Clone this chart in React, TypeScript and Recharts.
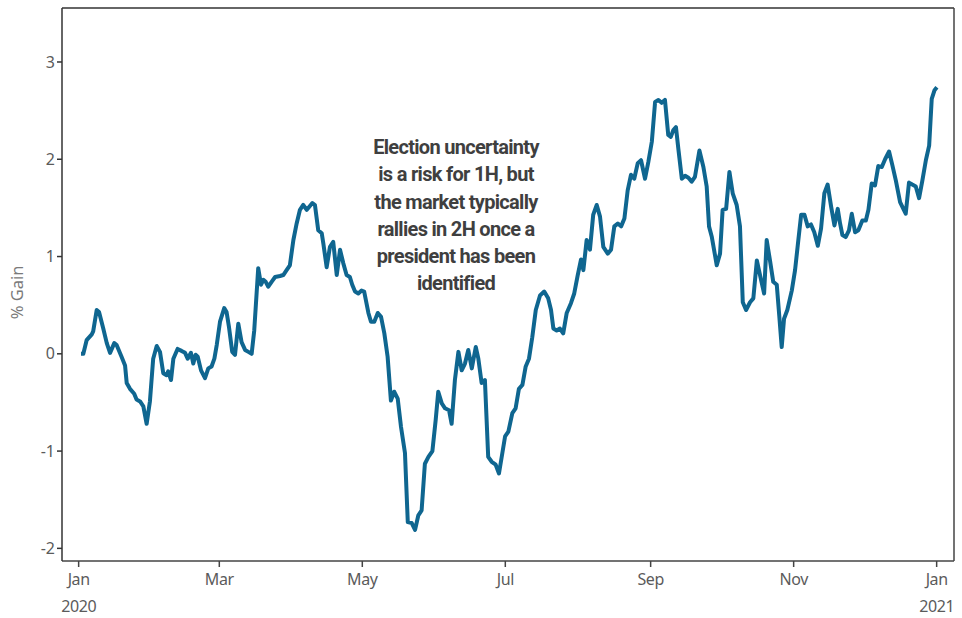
import React from 'react';
import { LineChart, Line, XAxis, YAxis, ReferenceLine } from 'recharts';

// days counted from Jan 1 2020
const DAYS = [
  1.0, 2.0, 3.4, 5.6, 6.2, 7.7, 8.7, 10.5, 12.0, 13.4, 15.2, 16.2, 18.3, 19.8, 20.5, 21.9, 23.7, 24.7, 26.2, 27.6,
  29.0, 30.4, 31.8, 33.3, 34.7, 36.1, 37.5, 38.2, 39.4, 40.4, 42.2, 43.9, 45.4, 46.5, 47.9, 48.9, 49.9, 50.8, 52.2, 53.9,
  55.3, 56.7, 57.9, 58.9, 60.3, 62.1, 63.1, 64.1, 65.5, 66.7, 68.1, 69.5, 71.0, 72.4, 73.8, 74.9, 76.6, 77.8, 78.8, 79.8,
  80.9, 82.3, 83.8, 85.9, 87.3, 88.7, 90.1, 91.6, 93.0, 94.4, 95.8, 97.3, 98.3, 99.7, 100.8, 102.2, 103.7, 104.4, 105.8, 107.2,
  108.6, 110.1, 111.5, 112.9, 114.3, 115.7, 116.7, 117.9, 119.3, 120.7, 121.8, 123.6, 124.7, 126.1, 127.6, 129.0, 130.4, 131.8, 133.2, 134.6,
  136.1, 137.5, 139.2, 140.4, 142.1, 143.5, 144.9, 146.3, 147.7, 149.2, 150.9, 152.3, 153.4, 154.9, 156.3, 158.0, 159.1, 160.5, 162.0, 163.4,
  164.8, 166.2, 167.7, 169.4, 170.5, 171.9, 173.3, 174.7, 176.2, 177.9, 179.3, 181.9, 183.3, 185.0, 186.4, 187.8, 189.3, 190.7, 192.1, 193.5,
  195.0, 196.8, 198.6, 200.3, 201.5, 202.5, 203.9, 205.3, 206.7, 208.2, 210.0, 211.4, 212.9, 214.3, 215.3, 216.7, 218.1, 219.5, 221.0, 222.4,
  223.8, 225.7, 227.1, 228.5, 230.0, 231.4, 232.8, 234.2, 235.6, 237.0, 238.5, 239.9, 241.6, 243.0, 244.5, 245.9, 247.3, 248.7, 250.1, 251.5,
  252.6, 253.7, 254.8, 255.8, 257.3, 258.7, 260.1, 261.5, 262.9, 264.8, 266.5, 267.9, 268.9, 270.1, 272.2, 273.6, 274.7, 276.2, 277.6, 279.0,
  280.7, 282.1, 283.3, 284.7, 286.4, 287.8, 289.3, 291.0, 292.4, 293.5, 294.9, 296.3, 297.8, 298.9, 299.9, 300.9, 302.3, 304.2, 305.6, 307.0,
  308.2, 309.6, 311.0, 312.4, 313.8, 315.3, 316.7, 318.1, 319.5, 321.0, 322.4, 323.8, 324.8, 325.8, 327.2, 328.6, 329.8, 331.2, 332.6, 334.3,
  335.8, 336.9, 338.3, 339.7, 341.1, 342.6, 344.0, 345.7, 347.1, 348.6, 350.4, 351.8, 352.8, 354.2, 355.6, 357.1, 358.5, 359.9, 361.4, 362.8,
  363.9, 365.1, 366.1,
];

const GAIN = [
  0.0, 0.0, 0.14, 0.2, 0.23, 0.45, 0.43, 0.26, 0.11, 0.01, 0.11, 0.09, -0.03, -0.12, -0.3, -0.36, -0.41, -0.47, -0.49, -0.54,
  -0.72, -0.49, -0.05, 0.08, 0.02, -0.2, -0.22, -0.18, -0.27, -0.05, 0.05, 0.03, 0.01, -0.05, 0.01, -0.1, -0.01, -0.03, -0.17, -0.25,
  -0.15, -0.13, -0.05, 0.09, 0.33, 0.47, 0.43, 0.28, 0.02, -0.01, 0.31, 0.12, 0.04, 0.02, 0.0, 0.24, 0.88, 0.71, 0.76, 0.74,
  0.69, 0.74, 0.79, 0.8, 0.81, 0.86, 0.91, 1.17, 1.34, 1.48, 1.53, 1.48, 1.51, 1.55, 1.53, 1.27, 1.24, 1.13, 0.89, 1.1,
  1.15, 0.81, 1.07, 0.93, 0.81, 0.79, 0.71, 0.64, 0.62, 0.65, 0.64, 0.42, 0.33, 0.33, 0.42, 0.38, 0.21, -0.03, -0.48, -0.39,
  -0.46, -0.75, -1.02, -1.73, -1.74, -1.81, -1.66, -1.61, -1.13, -1.06, -1.0, -0.68, -0.39, -0.51, -0.56, -0.58, -0.72, -0.27, 0.02, -0.17,
  -0.1, 0.04, -0.15, 0.07, -0.05, -0.3, -0.27, -1.06, -1.11, -1.14, -1.23, -0.85, -0.8, -0.61, -0.56, -0.36, -0.32, -0.13, -0.05, 0.17,
  0.45, 0.6, 0.64, 0.57, 0.45, 0.26, 0.24, 0.26, 0.21, 0.42, 0.52, 0.62, 0.81, 0.97, 0.86, 1.17, 1.07, 1.43, 1.53, 1.41,
  1.1, 1.03, 1.07, 1.31, 1.34, 1.31, 1.39, 1.68, 1.84, 1.8, 1.96, 1.99, 1.8, 1.97, 2.18, 2.59, 2.61, 2.58, 2.61, 2.25,
  2.23, 2.3, 2.33, 2.11, 1.8, 1.83, 1.81, 1.77, 1.82, 2.09, 1.92, 1.72, 1.31, 1.2, 0.91, 1.03, 1.48, 1.49, 1.87, 1.65,
  1.53, 1.31, 0.53, 0.45, 0.53, 0.57, 0.96, 0.77, 0.62, 1.17, 0.96, 0.74, 0.71, 0.38, 0.07, 0.36, 0.45, 0.65, 0.86, 1.17,
  1.43, 1.43, 1.31, 1.33, 1.25, 1.11, 1.29, 1.65, 1.74, 1.51, 1.32, 1.49, 1.34, 1.22, 1.2, 1.27, 1.44, 1.25, 1.27, 1.37,
  1.37, 1.48, 1.75, 1.73, 1.93, 1.92, 2.0, 2.08, 1.94, 1.78, 1.56, 1.49, 1.44, 1.76, 1.74, 1.72, 1.6, 1.78, 1.99, 2.14,
  2.62, 2.71, 2.74,
];

const MONTH_TICKS = [0, 60, 121, 182, 244, 305, 366];
const MONTH_LABELS = ['Jan', 'Mar', 'May', 'Jul', 'Sep', 'Nov', 'Jan'];
const YEAR_LABELS = ['2020', '', '', '', '', '', '2021'];
const Y_TICKS = [-2, -1, 0, 1, 2, 3];

const X_DOMAIN = [-7.1, 373.4];
const Y_DOMAIN = [-2.13, 3.555];

const data = DAYS.map((d, i) => ({ day: d, gain: GAIN[i] }));

const FONT = '"Noto Sans", "Open Sans", sans-serif';
const TICK_COLOR = '#5b5b5b';

const MonthTick = ({ x, y, payload }: any) => {
  const i = MONTH_TICKS.indexOf(payload.value);
  return (
    <g transform={`translate(${x},${y})`}>
      <text x={0} y={16} textAnchor="middle" fill={TICK_COLOR} fontSize={16} fontFamily={FONT} letterSpacing={-0.4}>
        {MONTH_LABELS[i]}
      </text>
      {YEAR_LABELS[i] && (
        <text x={0} y={43} textAnchor="middle" fill={TICK_COLOR} fontSize={16} fontFamily={FONT} letterSpacing={-0.4}>
          {YEAR_LABELS[i]}
        </text>
      )}
    </g>
  );
};

export default function App() {
  return (
    <div style={{ position: 'relative', width: 962, height: 618, background: '#fff' }}>
      <style>{'body{margin:0}'}</style>
      <LineChart width={962} height={618} data={data} margin={{ top: 8, right: 8, bottom: 7, left: 12 }}>
        <XAxis
          dataKey="day"
          type="number"
          domain={X_DOMAIN}
          ticks={MONTH_TICKS}
          interval={0}
          height={50}
          allowDataOverflow
          axisLine={{ stroke: '#444', strokeWidth: 1.5 }}
          tickLine={{ stroke: '#444', strokeWidth: 1.5 }}
          tickSize={6}
          tick={<MonthTick />}
        />
        <YAxis
          type="number"
          domain={Y_DOMAIN}
          ticks={Y_TICKS}
          interval={0}
          width={50}
          allowDataOverflow
          axisLine={{ stroke: '#333', strokeWidth: 1.5 }}
          tickLine={{ stroke: '#333', strokeWidth: 1.5 }}
          tickSize={5}
          tick={{ fill: TICK_COLOR, fontSize: 16, fontFamily: FONT }}
          label={{
            value: '% Gain',
            angle: -90,
            position: 'insideLeft',
            dx: 0,
            dy: 8,
            style: { fill: '#7a7a7a', fontSize: 16.5, fontFamily: FONT, textAnchor: 'middle' },
          }}
        />
        <ReferenceLine y={Y_DOMAIN[1]} stroke="#666" strokeWidth={2} />
        <ReferenceLine x={X_DOMAIN[1]} stroke="#444" strokeWidth={1.5} />
        <Line
          type="linear"
          dataKey="gain"
          stroke="#0f6690"
          strokeWidth={4}
          dot={false}
          strokeLinejoin="round"
          isAnimationActive={false}
        />
      </LineChart>
      <div
        style={{
          position: 'absolute',
          left: 356,
          top: 134,
          width: 200,
          textAlign: 'center',
          fontFamily: '"Roboto", sans-serif',
          fontWeight: 700,
          fontSize: 20,
          letterSpacing: -0.7,
          lineHeight: '27.3px',
          color: '#3f3f3f',
        }}
      >
        Election uncertainty
        <br />
        is a risk for 1H, but
        <br />
        the market typically
        <br />
        rallies in 2H once a
        <br />
        president has been
        <br />
        identified
      </div>
    </div>
  );
}
